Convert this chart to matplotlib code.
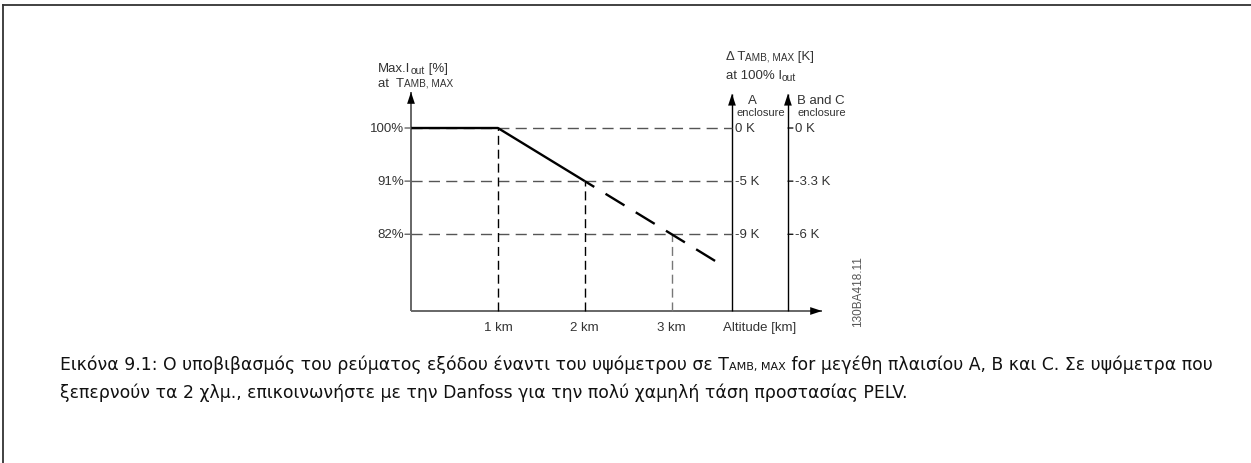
import matplotlib
matplotlib.use('Agg')
import matplotlib.pyplot as plt
import matplotlib.transforms as mtransforms

plt.rcParams['lines.scale_dashes'] = False

# derating curve: solid part, then the dashed extension
alt_solid = [0, 1, 2]
pct_solid = [100, 100, 91]
alt_ext = [2, 3, 3.52]
pct_ext = [91, 82, 77.3]

# reference levels and where they drop down to the altitude axis
levels = [100, 91, 82]
level_labels = ['100%', '91%', '82%']
level_alt = [1, 2, 3]
km_ticks = [1, 2, 3]
km_labels = ['1 km', '2 km', '3 km']
delta_a = ['0 K', '-5 K', '-9 K']
delta_bc = ['0 K', '-3.3 K', '-6 K']

W, H = 1251, 464
X_A, X_BC = 3.694, 4.338      # positions of the two ΔT axes (km)
X_END, Y_BOT, Y_TOP = 4.73, 69, 106.1

ARIAL = 'Liberation Sans'
TXT = '#333333'
GREY = '#666666'

fig = plt.figure(figsize=(W / 100, H / 100), dpi=100)
fig.patch.set_facecolor('white')


def fx(px):
    return px / W


def fy(py):
    return 1 - py / H


ax = fig.add_axes([fx(411), fy(312), fx(822) - fx(411), fy(93) - fy(312)])
ax.set_xlim(0, X_END)
ax.set_ylim(Y_BOT, Y_TOP)
ax.axis('off')

# page frame
fig.add_artist(plt.Line2D([fx(3), fx(3)], [fy(6), 0], color='#333333', lw=1.3))
fig.add_artist(plt.Line2D([fx(3), 1], [fy(6), fy(6)], color='#333333', lw=1.3))


def arrow(x0, y0, x1, y1, shaft):
    ax.plot([x0, x1], [y0, y1], color=shaft, lw=1.0 if shaft == 'black' else 1.4,
            clip_on=False, solid_capstyle='butt')
    ax.annotate('', xy=(x1, y1), xytext=(x0, y0),
                arrowprops=dict(arrowstyle='-|>,head_length=0.85,head_width=0.28',
                                mutation_scale=10, color='black', lw=0,
                                shrinkA=0, shrinkB=0),
                annotation_clip=False)


# axes
arrow(0, Y_BOT, 0, Y_TOP, GREY)
arrow(0, Y_BOT, X_END, Y_BOT, GREY)
arrow(X_A, Y_BOT, X_A, 105.8, 'black')
arrow(X_BC, Y_BOT, X_BC, 105.8, 'black')

# dashed guide lines
for v, a in zip(levels, level_alt):
    ax.plot([0, X_A], [v, v], color='#555555', lw=1.0, dashes=(8, 4.5), clip_on=False)
for a, v in zip(level_alt, levels):
    c = '#777777' if a == 3 else 'black'
    ax.plot([a, a], [Y_BOT, v], color=c, lw=1.0, dashes=(6.5, 3.5), clip_on=False)

# derating curve
ax.plot(alt_solid, pct_solid, color='black', lw=1.7, solid_capstyle='butt', clip_on=False)
ax.plot(alt_ext, pct_ext, color='black', lw=1.7, linestyle=(8, (16, 9.5)),
        dash_capstyle='butt', clip_on=False)

# y ticks and labels
for v, lab in zip(levels, level_labels):
    ax.annotate('', xy=(0, v), xytext=(-6, 0), textcoords='offset pixels',
                arrowprops=dict(arrowstyle='-', color=GREY, lw=1.0, shrinkA=0, shrinkB=0))
    ax.annotate(lab, xy=(0, v), xytext=(-7, 0), textcoords='offset pixels',
                ha='right', va='center', fontsize=9.5, family=ARIAL, color=TXT)

# altitude labels
for k, lab in zip(km_ticks, km_labels):
    ax.annotate(lab, xy=(k, Y_BOT), xytext=(0, -16), textcoords='offset pixels',
                ha='center', va='center', fontsize=9.5, family=ARIAL, color=TXT)
ax.annotate('Altitude [km]', xy=((X_A + X_BC) / 2, Y_BOT), xytext=(0, -16),
            textcoords='offset pixels', ha='center', va='center', fontsize=9.5,
            family=ARIAL, color=TXT)

# ΔT labels on the two enclosure axes
for v, a_lab, bc_lab in zip(levels, delta_a, delta_bc):
    ax.annotate(a_lab, xy=(X_A, v), xytext=(3, 0), textcoords='offset pixels',
                ha='left', va='center', fontsize=9.5, family=ARIAL, color=TXT)
    ax.annotate('', xy=(X_BC, v), xytext=(5, 0), textcoords='offset pixels',
                arrowprops=dict(arrowstyle='-', color='black', lw=0.9, shrinkA=0, shrinkB=0))
    ax.annotate(bc_lab, xy=(X_BC, v), xytext=(7, 0), textcoords='offset pixels',
                ha='left', va='center', fontsize=9.5, family=ARIAL, color=TXT)

renderer = fig.canvas.get_renderer()


def rich(px, py, parts, family, color=TXT):
    # draws text runs one after another on a common baseline (pixel coords, top-left origin)
    off = 0
    for text, size, dy in parts:
        tr = mtransforms.offset_copy(fig.transFigure, x=off, y=-dy, units='dots')
        t = fig.text(fx(px), fy(py), text, fontsize=size, family=family, color=color,
                     ha='left', va='baseline', transform=tr)
        off += t.get_window_extent(renderer).width


rich(378, 72, [('Max.I', 9.5, 0), ('out', 7.5, 2), (' [%]', 9.5, 0)], ARIAL)
rich(378, 87, [('at  T', 9.5, 0), ('AMB, MAX', 7.2, 0)], ARIAL)
rich(726, 60, [('Δ T', 9.5, 0), ('AMB, MAX', 7.2, 0), (' [K]', 9.5, 0)], ARIAL)
rich(726, 79, [('at 100% I', 9.5, 0), ('out', 7.5, 2)], ARIAL)

fig.text(fx(752), fy(104), 'A', fontsize=9.5, family=ARIAL, color=TXT, ha='center', va='baseline')
fig.text(fx(761), fy(116), 'enclosure', fontsize=8, family=ARIAL, color=TXT, ha='center', va='baseline')
fig.text(fx(797), fy(104), 'B and C', fontsize=9.5, family=ARIAL, color=TXT, ha='left', va='baseline')
fig.text(fx(797), fy(116), 'enclosure', fontsize=8, family=ARIAL, color=TXT, ha='left', va='baseline')

fig.text(fx(858), fy(292), '130BA418.11', fontsize=8.5, family=ARIAL, color='#555555',
         rotation=90, ha='center', va='center')

# caption
CAP = 'DejaVu Sans'
rich(60, 370, [('Εικόνα 9.1: Ο υποβιβασμός του ρεύματος εξόδου έναντι του υψόμετρου σε T', 12.4, 0),
               ('AMB, MAX', 8, 0),
               (' for μεγέθη πλαισίου A, B και C. Σε υψόμετρα που', 12.4, 0)], CAP, color='#111111')
rich(60, 398, [('ξεπερνούν τα 2 χλμ., επικοινωνήστε με την Danfoss για την πολύ χαμηλή τάση προστασίας PELV.', 12.4, 0)],
     CAP, color='#111111')

fig.savefig('out.png', dpi=100, facecolor='white')
